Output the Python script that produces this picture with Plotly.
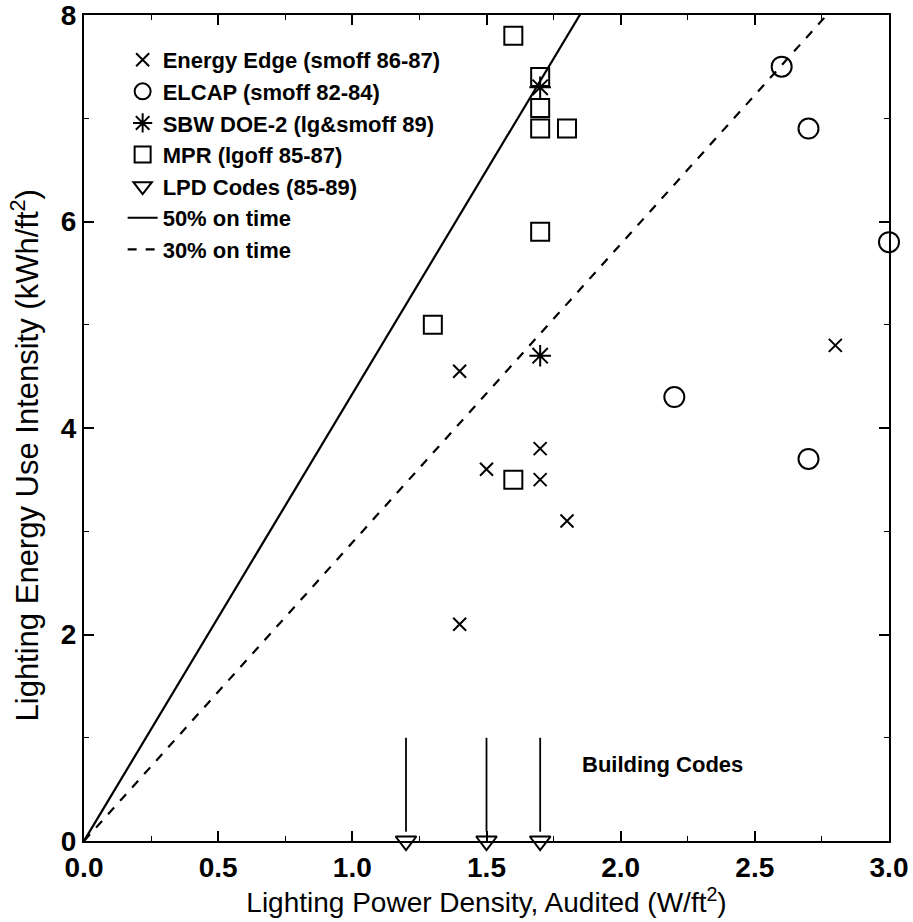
import plotly.graph_objects as go

# Measured data sets: lighting power density (W/ft2) vs. energy use intensity (kWh/ft2)
energy_edge_x = [1.4, 1.5, 1.7, 1.7, 1.8, 1.4, 2.8]
energy_edge_y = [4.55, 3.6, 3.8, 3.5, 3.1, 2.1, 4.8]

elcap_x = [2.6, 2.7, 3.0, 2.2, 2.7]
elcap_y = [7.5, 6.9, 5.8, 4.3, 3.7]

sbw_x = [1.7, 1.7]
sbw_y = [7.3, 4.7]

mpr_x = [1.6, 1.7, 1.7, 1.7, 1.8, 1.7, 1.3, 1.6]
mpr_y = [7.8, 7.4, 7.1, 6.9, 6.9, 5.9, 5.0, 3.5]

# LPD code values with the arrow start height
code_x = [1.2, 1.5, 1.7]
code_y = [0.0, 0.0, 0.0]
arrow_top = 1.0

# Reference lines: annual EUI per W/ft2 at the given on-time fractions
line_x = [0.0, 3.0]
slope_50 = 4.33
slope_30 = 2.89

x_ticks = [0.0, 0.5, 1.0, 1.5, 2.0, 2.5, 3.0]
x_tick_text = ["0.0", "0.5", "1.0", "1.5", "2.0", "2.5", "3.0"]
y_ticks = [0, 2, 4, 6, 8]
y_tick_text = ["0", "2", "4", "6", "8"]

FONT = "Liberation Sans, Arial, sans-serif"
INK = "black"

fig = go.Figure()

fig.add_trace(go.Scatter(
    x=energy_edge_x, y=energy_edge_y, mode="markers",
    name="Energy Edge (smoff 86-87)",
    marker=dict(symbol="x-thin-open", size=13, line=dict(color=INK, width=2), color=INK),
))
fig.add_trace(go.Scatter(
    x=elcap_x, y=elcap_y, mode="markers",
    name="ELCAP (smoff 82-84)",
    marker=dict(symbol="circle-open", size=20, line=dict(color=INK, width=2), color=INK),
    cliponaxis=False,
))
fig.add_trace(go.Scatter(
    x=sbw_x, y=sbw_y, mode="markers",
    name="SBW DOE-2 (lg&smoff 89)",
    marker=dict(symbol="asterisk-open", size=18, line=dict(color=INK, width=2), color=INK),
))
fig.add_trace(go.Scatter(
    x=mpr_x, y=mpr_y, mode="markers",
    name="MPR (lgoff 85-87)",
    marker=dict(symbol="square-open", size=18, line=dict(color=INK, width=2), color=INK),
))

# Arrows down to each code value
for cx in code_x:
    fig.add_trace(go.Scatter(
        x=[cx, cx], y=[arrow_top, 0.09], mode="lines",
        line=dict(color=INK, width=1.8), showlegend=False, hoverinfo="skip",
    ))

fig.add_trace(go.Scatter(
    x=code_x, y=code_y, mode="markers",
    name="LPD Codes (85-89)",
    marker=dict(symbol="triangle-down-open", size=18, line=dict(color=INK, width=2), color=INK),
    cliponaxis=False,
))

fig.add_trace(go.Scatter(
    x=line_x, y=[slope_50 * v for v in line_x], mode="lines",
    name="50% on time", line=dict(color=INK, width=2.2),
))
fig.add_trace(go.Scatter(
    x=line_x, y=[slope_30 * v for v in line_x], mode="lines",
    name="30% on time", line=dict(color=INK, width=2.2, dash="dash"),
))

fig.add_annotation(
    x=1.85, y=0.74, xanchor="left", text="Building Codes", showarrow=False,
    font=dict(family=FONT, size=22, color=INK, weight="bold"),
)

# Vertical axis title, placed beside the tick labels
fig.add_annotation(
    xref="paper", yref="paper", x=-0.073, y=0.467,
    xanchor="center", yanchor="middle", textangle=-90, showarrow=False,
    text="Lighting Energy Use Intensity (kWh/ft<sup>2</sup>)",
    font=dict(family=FONT, size=31, color=INK),
)

axis_common = dict(
    showline=True, linecolor=INK, linewidth=2, mirror="ticks",
    ticks="inside", ticklen=10, tickwidth=1.5, tickcolor=INK,
    showgrid=False, zeroline=False, ticklabeloverflow="allow",
    automargin=False,
    tickfont=dict(family=FONT, size=28, color=INK, weight="bold"),
)

fig.update_xaxes(
    range=[0, 3], tickvals=x_ticks, ticktext=x_tick_text,
    minor=dict(dtick=0.25, ticks="inside", ticklen=5, tickcolor=INK, tickwidth=1.2),
    title=dict(text="Lighting Power Density, Audited (W/ft<sup>2</sup>)",
               font=dict(family=FONT, size=28, color=INK), standoff=4),
    **axis_common,
)
fig.update_yaxes(
    range=[0, 8], tickvals=y_ticks, ticktext=y_tick_text,
    minor=dict(dtick=1, ticks="inside", ticklen=5, tickcolor=INK, tickwidth=1.2),
    **axis_common,
)

fig.update_layout(
    width=913, height=922,
    margin=dict(l=84, r=24, t=15, b=81),
    paper_bgcolor="white", plot_bgcolor="white",
    font=dict(family=FONT, color=INK),
    legend=dict(
        x=0.048, y=0.971, xanchor="left", yanchor="top",
        bgcolor="rgba(0,0,0,0)", borderwidth=0,
        font=dict(family=FONT, size=22, color=INK, weight="bold"),
        tracegroupgap=0, itemsizing="trace",
    ),
)

fig.write_html("out.html")
